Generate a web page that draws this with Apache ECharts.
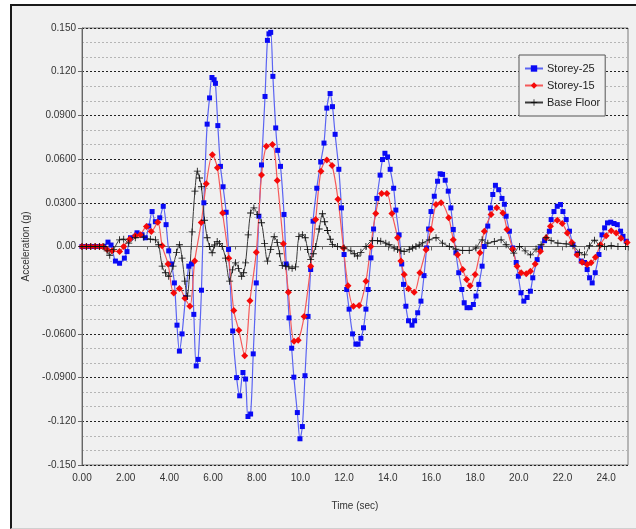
<!DOCTYPE html>
<html><head><meta charset="utf-8">
<script src="https://cdn.jsdelivr.net/npm/echarts@6/dist/echarts.min.js"></script>
<style>
html,body{margin:0;padding:0;background:#fff;overflow:hidden;width:636px;height:529px;}
#frame{position:absolute;left:10px;top:4px;width:640px;height:522px;background:#f0f0f0;border-left:2px solid #1a1a1a;border-top:2px solid #1a1a1a;border-bottom:1px solid #d0d0d0;}
#chart{position:absolute;left:0;top:0;width:636px;height:529px;}
</style></head><body>
<div id="frame"></div><div id="chart"></div>
<script>
// ---- data ----
const xTickLabels = ["0.00","2.00","4.00","6.00","8.00","10.0","12.0","14.0","16.0","18.0","20.0","22.0","24.0"];
const yTickLabels = ["-0.150","-0.120","-0.0900","-0.0600","-0.0300","0.00","0.0300","0.0600","0.0900","0.120","0.150"];
const seriesNames = ["Storey-25","Storey-15","Base Floor"];

const storey25Time = [0,0.2,0.4,0.6,0.8,1.0,1.19,1.33,1.53,1.72,1.94,2.06,2.22,2.52,2.75,2.90,3.06,3.21,3.36,3.56,3.72,3.85,3.97,4.10,4.23,4.35,4.46,4.58,4.74,4.89,5.01,5.12,5.23,5.32,5.47,5.58,5.73,5.84,5.95,6.05,6.11,6.22,6.34,6.46,6.60,6.71,6.90,7.08,7.22,7.37,7.49,7.60,7.72,7.84,7.98,8.10,8.22,8.38,8.49,8.56,8.64,8.74,8.87,8.96,9.09,9.25,9.35,9.48,9.60,9.70,9.86,9.98,10.09,10.21,10.35,10.47,10.58,10.75,10.93,11.08,11.21,11.36,11.47,11.59,11.76,11.88,12.0,12.12,12.23,12.39,12.54,12.64,12.77,12.89,13.0,13.10,13.23,13.35,13.50,13.65,13.76,13.87,13.99,14.11,14.27,14.37,14.52,14.64,14.72,14.83,14.95,15.11,15.23,15.37,15.52,15.66,15.78,15.87,15.98,16.13,16.28,16.40,16.51,16.63,16.77,16.89,17.0,17.12,17.25,17.39,17.50,17.63,17.77,17.92,18.04,18.17,18.32,18.42,18.58,18.70,18.81,18.93,19.08,19.23,19.34,19.42,19.57,19.72,19.88,19.98,20.10,20.23,20.38,20.53,20.64,20.84,20.99,21.18,21.40,21.48,21.61,21.76,21.91,22.02,22.17,22.32,22.48,22.67,22.86,23.01,23.13,23.24,23.36,23.50,23.67,23.81,23.93,24.06,24.21,24.36,24.51,24.66,24.77,24.92];
const storey25Acc = [0,0,0,0,0,0,0.003,0.001,-0.010,-0.0115,-0.008,-0.0035,0.006,0.0094,0.008,0.006,0.014,0.024,0.017,0.0197,0.0276,0.015,-0.003,-0.012,-0.025,-0.054,-0.0718,-0.060,-0.035,-0.0135,-0.012,-0.0466,-0.082,-0.0775,-0.030,0.030,0.084,0.102,0.116,0.1145,0.112,0.083,0.055,0.041,0.0235,-0.002,-0.058,-0.090,-0.1025,-0.0865,-0.091,-0.1167,-0.115,-0.0737,-0.025,0.0208,0.056,0.103,0.1415,0.146,0.147,0.1168,0.0814,0.066,0.055,0.022,-0.012,-0.049,-0.0698,-0.0897,-0.114,-0.132,-0.1236,-0.0887,-0.048,-0.0158,0.0174,0.040,0.058,0.071,0.095,0.105,0.096,0.077,0.053,0.0265,-0.0055,-0.0295,-0.043,-0.060,-0.067,-0.067,-0.063,-0.0558,-0.043,-0.0295,-0.0078,0.012,0.033,0.049,0.0597,0.064,0.0615,0.053,0.040,0.025,0.008,-0.012,-0.026,-0.041,-0.051,-0.054,-0.051,-0.0455,-0.0375,-0.020,-0.001,0.012,0.024,0.0345,0.0448,0.0499,0.0495,0.0455,0.038,0.0265,0.0117,-0.0043,-0.018,-0.0295,-0.0386,-0.042,-0.042,-0.0398,-0.034,-0.026,-0.0135,0,0.014,0.0265,0.0357,0.042,0.039,0.033,0.029,0.0208,0.0105,-0.001,-0.011,-0.0204,-0.0318,-0.0375,-0.035,-0.0307,-0.0215,-0.009,-0.001,0.004,0.0105,0.0185,0.024,0.0276,0.0288,0.024,0.0185,0.0105,0.0014,-0.005,-0.010,-0.011,-0.0158,-0.0215,-0.025,-0.018,-0.0055,0.008,0.0128,0.0162,0.0167,0.0158,0.015,0.0105,0.007,0.0036];

const storey15Time = [0,0.2,0.4,0.6,0.8,0.95,1.15,1.38,1.72,1.91,2.18,2.44,2.67,2.95,3.17,3.47,3.67,3.94,4.20,4.46,4.71,4.94,5.16,5.46,5.69,5.97,6.20,6.44,6.72,6.95,7.18,7.45,7.69,7.98,8.22,8.44,8.72,8.94,9.22,9.45,9.71,9.90,10.17,10.47,10.70,10.94,11.21,11.45,11.72,11.97,12.18,12.43,12.69,13.0,13.22,13.45,13.72,13.96,14.19,14.45,14.60,14.75,14.95,15.21,15.47,15.75,15.98,16.21,16.44,16.79,17.0,17.20,17.43,17.61,17.77,18.0,18.22,18.42,18.73,18.99,19.27,19.46,19.72,19.92,20.11,20.34,20.53,20.75,20.99,21.25,21.45,21.76,21.99,22.22,22.43,22.67,22.90,23.13,23.31,23.51,23.74,24.0,24.23,24.46,24.68,24.96];
const storey15Acc = [0,0,0,0,0,0,-0.002,-0.003,-0.0034,0,0.005,0.0073,0.008,0.0137,0.0103,0.0166,0.0005,-0.012,-0.032,-0.0288,-0.0355,-0.041,-0.010,0.0165,0.043,0.063,0.054,0.023,-0.008,-0.044,-0.0575,-0.075,-0.0373,-0.004,0.049,0.0689,0.070,0.0453,0.0019,-0.0314,-0.065,-0.0643,-0.048,-0.0135,0.0185,0.0517,0.0593,0.0556,0.0325,-0.001,-0.027,-0.041,-0.0405,-0.0238,0,0.0227,0.0364,0.0364,0.0227,0.006,-0.010,-0.0192,-0.029,-0.0314,-0.018,-0.0023,0.0117,0.0288,0.030,0.0197,0.0046,-0.0057,-0.0158,-0.0227,-0.027,-0.0192,-0.0043,0.0105,0.022,0.0266,0.023,0.0117,-0.0018,-0.0135,-0.018,-0.0187,-0.017,-0.012,-0.0032,0.006,0.0139,0.018,0.0158,0.0092,0.0027,-0.0057,-0.0108,-0.0123,-0.0112,-0.0073,0.0012,0.0073,0.0108,0.0092,0.0057,0.0027];

const baseTime = [0,0.2,0.4,0.6,0.8,1.0,1.15,1.27,1.45,1.72,1.91,2.14,2.44,2.83,3.13,3.36,3.51,3.67,3.82,3.97,4.17,4.33,4.46,4.58,4.71,4.82,4.92,5.04,5.17,5.28,5.38,5.47,5.61,5.73,5.84,5.96,6.07,6.19,6.30,6.42,6.57,6.76,6.89,7.03,7.17,7.31,7.40,7.49,7.61,7.72,7.87,8.03,8.22,8.36,8.49,8.64,8.80,8.94,9.05,9.17,9.33,9.47,9.62,9.78,9.93,10.09,10.22,10.33,10.47,10.59,10.70,10.86,11.01,11.11,11.24,11.37,11.47,11.70,12.0,12.31,12.47,12.61,12.77,13.0,13.30,13.53,13.68,13.91,14.06,14.29,14.45,14.60,14.75,14.98,15.14,15.29,15.44,15.60,15.90,16.21,16.51,16.82,17.12,17.43,17.73,18.04,18.32,18.58,18.88,19.19,19.42,19.77,20.03,20.29,20.53,20.79,21.02,21.25,21.48,21.79,22.17,22.48,22.78,23.01,23.24,23.47,23.70,23.93,24.23,24.54,24.89];
const baseAcc = [0,0,0,0,0,0,-0.003,-0.006,-0.002,0.0046,0.005,0.0023,0.006,0.0064,0.005,0.0046,0.0012,-0.0135,-0.018,-0.0204,-0.0135,-0.004,0.0012,-0.008,-0.0238,-0.034,-0.020,0.010,0.038,0.0517,0.047,0.041,0.018,0.006,0,-0.0043,0.001,0.0035,0.002,0,-0.008,-0.0238,-0.016,-0.0112,-0.015,-0.0204,-0.018,-0.0112,0.008,0.023,0.0265,0.022,0.0163,0.002,-0.010,-0.002,0.0067,0.0027,-0.005,-0.013,-0.0135,-0.014,-0.015,-0.014,0.007,0.008,0.006,-0.002,-0.009,-0.005,0,0.012,0.0225,0.017,0.011,0.005,0.0015,0,-0.001,-0.003,-0.005,-0.0065,-0.004,0,0.004,0.004,0.0036,0.0023,0.0012,-0.001,-0.002,-0.003,-0.0035,-0.002,-0.001,0,0.001,0.0025,0.0046,0.006,0.0023,0,-0.0018,-0.0027,-0.0027,-0.001,0.0046,0.0023,0.0034,0.0046,0.0012,-0.0045,0,-0.003,-0.0057,-0.0018,0.0012,0.006,0.004,0.0023,0.0018,0.0005,-0.004,-0.0057,0.0005,0.0043,0.0005,0,0.0005,0,0];

// ---- chart ----
const pairs = (ts, vs) => ts.map((t, i) => [t, vs[i]]);
const FONT = 'Liberation Sans';
const chart = echarts.init(document.getElementById('chart'), null, {renderer: 'canvas'});
const plusPath = 'path://M4.4,0h1.2v4.4h4.4v1.2h-4.4v4.4h-1.2v-4.4h-4.4v-1.2h4.4z';

chart.setOption({
  animation: false,
  backgroundColor: 'transparent',
  textStyle: {fontFamily: FONT},
  grid: {left: 82, top: 28, right: 8, bottom: 64, show: true, borderColor: '#7a7a7a', borderWidth: 1, backgroundColor: 'transparent'},
  legend: {
    orient: 'vertical', left: 519, top: 55,
    padding: [8, 5, 8, 5], itemGap: 6, itemWidth: 18, itemHeight: 8,
    backgroundColor: '#f0f0f0', borderColor: '#555', borderWidth: 1,
    textStyle: {fontSize: 11, color: '#222', fontFamily: FONT, padding: [0, 0, 0, -1]},
    data: seriesNames
  },
  xAxis: {
    type: 'value', min: 0, max: 25, interval: 2,
    name: 'Time (sec)', nameLocation: 'middle', nameGap: 36,
    nameTextStyle: {fontSize: 10, color: '#333', fontFamily: FONT},
    axisLine: {show: true, lineStyle: {color: '#666', width: 1}},
    axisTick: {show: true, length: 4, lineStyle: {color: '#666'}},
    minorTick: {show: true, splitNumber: 2, length: 3, lineStyle: {color: '#666'}},
    splitLine: {show: false},
    axisLabel: {
      margin: 8, fontSize: 10, color: '#333', fontFamily: FONT,
      formatter: v => {
        const k = Math.round(v / 2);
        return (Math.abs(v - k * 2) < 1e-6 && k < xTickLabels.length) ? xTickLabels[k] : '';
      }
    }
  },
  yAxis: {
    type: 'value', min: -0.15, max: 0.15, interval: 0.03,
    name: 'Acceleration (g)', nameLocation: 'middle', nameGap: 44,
    nameTextStyle: {fontSize: 10, color: '#333', fontFamily: FONT},
    axisLine: {show: true, lineStyle: {color: '#666', width: 1}},
    axisTick: {show: true, length: 4, lineStyle: {color: '#666'}},
    minorTick: {show: false, splitNumber: 3},
    splitLine: {show: true, lineStyle: {color: '#222', width: 1, type: [2, 2]}},
    minorSplitLine: {show: true, lineStyle: {color: '#b5b5b5', width: 1, type: [2, 2]}},
    axisLabel: {
      margin: 6, fontSize: 10, color: '#333', fontFamily: FONT,
      formatter: v => {
        const k = Math.round((v + 0.15) / 0.03);
        return yTickLabels[k] !== undefined ? yTickLabels[k] : '';
      }
    }
  },
  series: [
    {
      name: seriesNames[0], type: 'line', smooth: 0.3,
      data: pairs(storey25Time, storey25Acc),
      symbol: 'rect', symbolSize: 5,
      lineStyle: {color: '#5b64f2', width: 1.2},
      itemStyle: {color: '#0a0af5'}
    },
    {
      name: seriesNames[1], type: 'line', smooth: 0.3,
      data: pairs(storey15Time, storey15Acc),
      symbol: 'diamond', symbolSize: 7,
      lineStyle: {color: '#f55a5a', width: 1.2},
      itemStyle: {color: '#f50a0a'}
    },
    {
      name: seriesNames[2], type: 'line', smooth: 0.3,
      data: pairs(baseTime, baseAcc),
      symbol: plusPath, symbolSize: 7,
      lineStyle: {color: '#3a3a3a', width: 1},
      itemStyle: {color: '#111'}
    }
  ]
});
</script></body></html>
